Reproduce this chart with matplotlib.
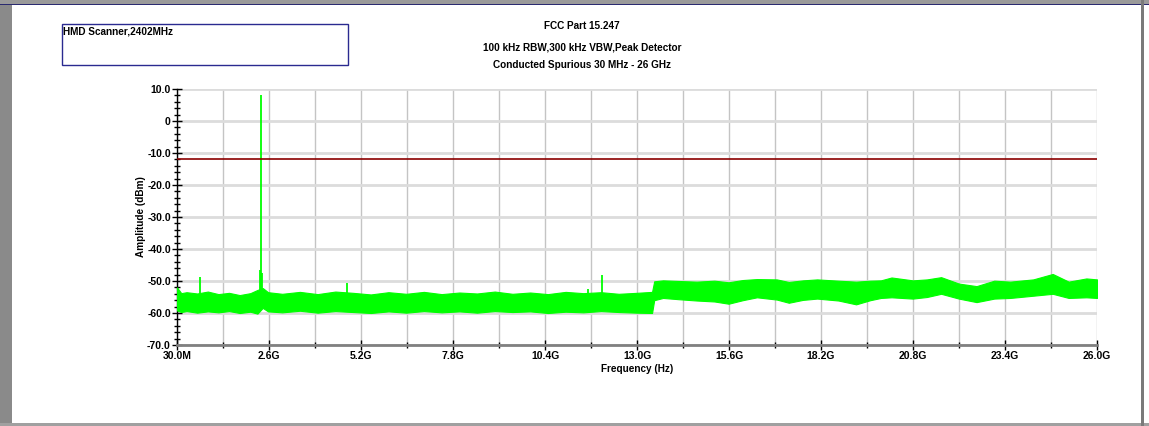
import numpy as np
import matplotlib.pyplot as plt
from matplotlib.patches import Rectangle
from matplotlib.ticker import FixedLocator, MultipleLocator, FuncFormatter

plt.rcParams['font.family'] = ['Liberation Sans', 'DejaVu Sans']
plt.rcParams['font.weight'] = 'bold'

# noise floor envelope of the trace (GHz, dBm)
freq_ghz = [0.03, 0.15, 0.3, 0.6, 0.9, 1.2, 1.5, 1.8, 2.1, 2.3, 2.45, 2.6, 3.0,
            3.5, 4.0, 4.5, 5.0, 5.5, 6.0, 6.5, 7.0, 7.5, 8.0, 8.5, 9.0, 9.5,
            10.0, 10.5, 11.0, 11.5, 12.0, 12.5, 13.0, 13.44, 13.5, 13.75,
            14.2, 14.7, 15.2, 15.6, 16.0, 16.4, 16.96, 17.3, 17.7, 18.1, 18.7,
            19.2, 19.6, 19.9, 20.2, 20.8, 21.2, 21.6, 22.1, 22.6, 23.1, 23.55,
            24.2, 24.75, 25.2, 25.7, 26.0]
upper_dbm = [-52.0, -53.8, -53.5, -53.9, -53.3, -54.1, -53.7, -54.4, -53.8, -52.8,
             -52.2, -53.5, -54.0, -53.4, -54.1, -53.3, -53.7, -54.2, -53.5, -54.0,
             -53.4, -54.1, -53.6, -53.9, -53.3, -54.0, -53.6, -54.1, -53.4, -53.8,
             -53.5, -54.0, -53.7, -53.4, -50.1, -49.8, -50.0, -50.2, -49.9, -50.4,
             -49.7, -49.4, -49.5, -50.3, -49.8, -49.5, -49.9, -50.2, -49.9, -49.8,
             -48.9, -49.8, -49.5, -48.8, -50.8, -51.6, -49.9, -50.2, -49.5, -47.8,
             -50.2, -49.2, -49.5]
lower_dbm = [-59.2, -59.7, -59.4, -59.9, -59.5, -59.8, -59.4, -60.0, -59.6, -60.2,
             -58.4, -59.5, -59.8, -59.3, -59.9, -59.4, -59.7, -60.0, -59.5, -59.9,
             -59.4, -59.8, -59.5, -59.9, -59.4, -59.7, -59.5, -60.0, -59.6, -59.8,
             -59.4, -59.7, -59.9, -60.0, -56.0, -55.3, -55.7, -56.1, -56.4, -57.1,
             -56.0, -55.1, -55.8, -56.8, -55.9, -55.5, -56.1, -57.3, -56.0, -55.3,
             -55.1, -55.5, -55.0, -54.0, -55.5, -56.6, -55.5, -55.3, -54.6, -54.0,
             -55.3, -55.1, -55.3]

# discrete spurs and the carrier
spur_ghz = [0.68, 2.36, 2.402, 2.44, 4.82, 11.62, 12.02]
spur_dbm = [-48.6, -46.6, 8.2, -47.4, -50.5, -52.6, -48.1]

limit_dbm = -11.9

x_labels = ['30.0M', '2.6G', '5.2G', '7.8G', '10.4G', '13.0G', '15.6G',
            '18.2G', '20.8G', '23.4G', '26.0G']

W, H = 1149, 426
fig = plt.figure(figsize=(W / 100, H / 100), dpi=100)

# window frame
fig.patches.append(Rectangle((0, 0), 12 / W, 1, transform=fig.transFigure,
                             facecolor='#8a8a8a', edgecolor='none', zorder=0))
fig.patches.append(Rectangle((0, 1 - 5 / H), 1, 5 / H, transform=fig.transFigure,
                             facecolor='#9a9a9a', edgecolor='none', zorder=0))
fig.patches.append(Rectangle((0, 1 - 5 / H), 1, 1.2 / H, transform=fig.transFigure,
                             facecolor='#2a2a70', edgecolor='none', zorder=0))
fig.patches.append(Rectangle((0, 0), 1, 3 / H, transform=fig.transFigure,
                             facecolor='#a0a0a0', edgecolor='none', zorder=0))
fig.patches.append(Rectangle((1141 / W, 0), 3 / W, 1, transform=fig.transFigure,
                             facecolor='#7a7a7a', edgecolor='none', zorder=0))

# info box
fig.patches.append(Rectangle((62 / W, 1 - 65 / H), 286 / W, 41 / H,
                             transform=fig.transFigure, facecolor='none',
                             edgecolor='#2a2a90', linewidth=1.0))
fig.text(63 / W, 1 - 31 / H, 'HMD Scanner,2402MHz', fontsize=7.2,
         fontweight='bold', va='center', ha='left')

fig.text(582 / W, 1 - 26 / H, 'FCC Part 15.247', fontsize=7.2,
         fontweight='bold', ha='center', va='center')
fig.text(582 / W, 1 - 47 / H, '100 kHz RBW,300 kHz VBW,Peak Detector',
         fontsize=7.2, fontweight='bold', ha='center', va='center')
fig.text(582 / W, 1 - 65 / H, 'Conducted Spurious 30 MHz - 26 GHz',
         fontsize=7.2, fontweight='bold', ha='center', va='center')

ax = fig.add_axes([177 / W, 1 - 345 / H, 920 / W, 256 / H])
ax.set_xlim(0.03, 26.0)
ax.set_ylim(-70, 10)

ax.fill_between(freq_ghz, lower_dbm, upper_dbm, color='#00ff00',
                linewidth=0.8, edgecolor='#00ff00', zorder=3)
ax.vlines(spur_ghz, -56, spur_dbm, color='#00ff00', linewidth=1.3, zorder=3)
ax.axhline(limit_dbm, color='#8b0000', linewidth=1.2, zorder=4)

step = (26.0 - 0.03) / 10
ax.xaxis.set_major_locator(FixedLocator([0.03 + k * step for k in range(11)]))
ax.xaxis.set_minor_locator(FixedLocator([0.03 + (k + 0.5) * step for k in range(10)]))
ax.set_xticklabels(x_labels)
ax.yaxis.set_major_locator(MultipleLocator(10))
ax.yaxis.set_minor_locator(MultipleLocator(2))
ax.yaxis.set_major_formatter(FuncFormatter(lambda v, p: '0' if v == 0 else f'{v:.1f}'))

ax.grid(True, which='major', axis='y', color='#dcdcdc', linewidth=2)
ax.grid(True, which='both', axis='x', color='#c4c4c4', linewidth=1)
ax.set_axisbelow(True)

for s in ['top', 'right']:
    ax.spines[s].set_visible(False)
ax.spines['left'].set_color('black')
ax.spines['left'].set_linewidth(1)
ax.spines['bottom'].set_color('#808080')
ax.spines['bottom'].set_linewidth(2)

ax.tick_params(axis='both', which='major', direction='inout', length=7,
               width=1, color='black', labelsize=7.5, pad=1)
ax.tick_params(axis='both', which='minor', direction='inout', length=4,
               width=1, color='black')
for lbl in ax.get_xticklabels() + ax.get_yticklabels():
    lbl.set_fontweight('bold')

ax.set_xlabel('Frequency (Hz)', fontsize=7.2, fontweight='bold', labelpad=2)
ax.set_ylabel('Amplitude (dBm)', fontsize=7.2, fontweight='bold', labelpad=1)

fig.savefig('out.png', dpi=100)
